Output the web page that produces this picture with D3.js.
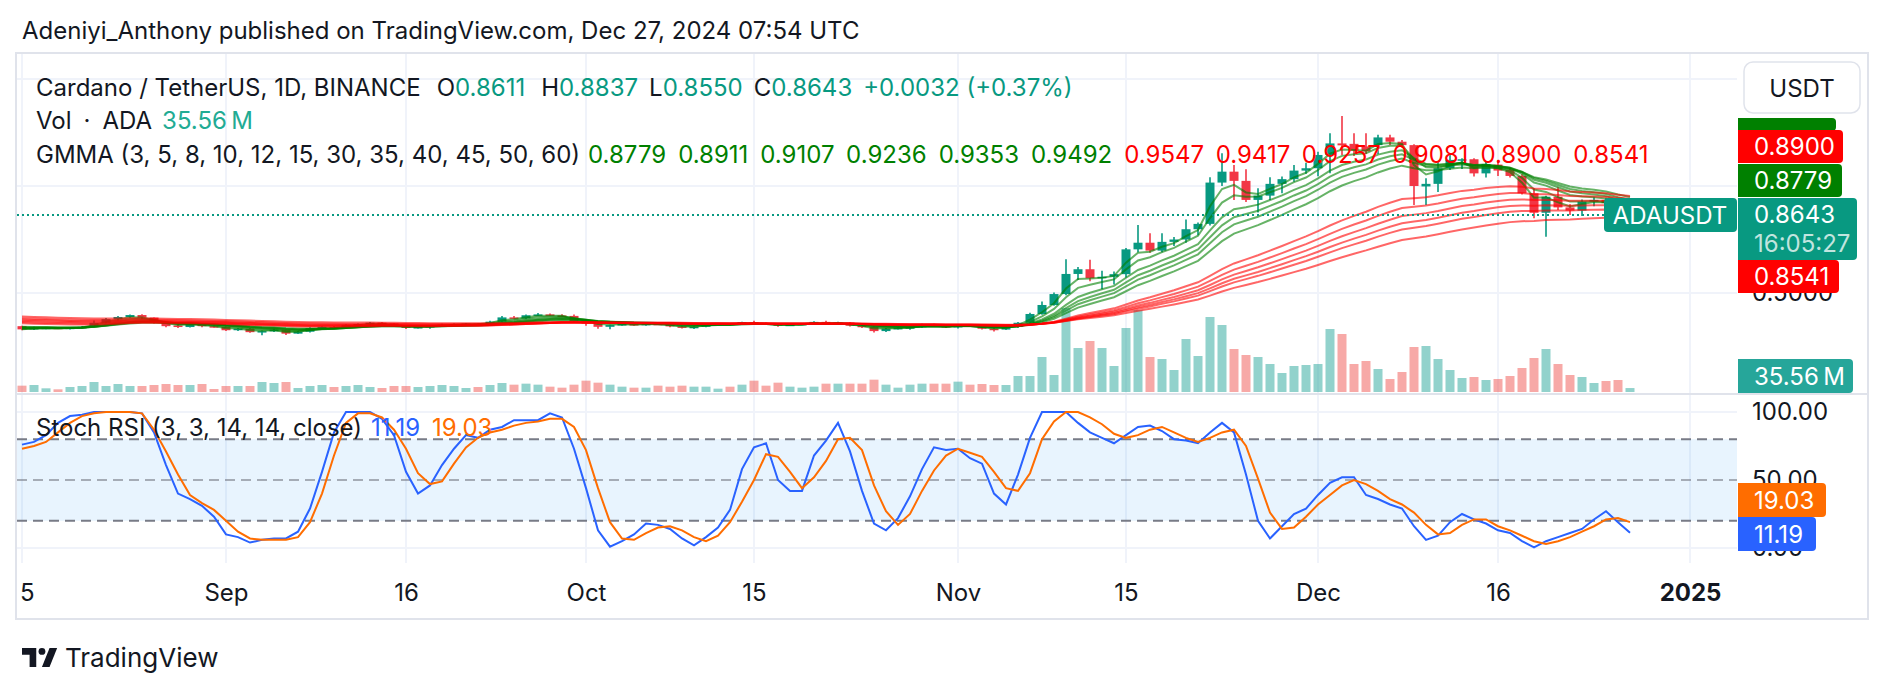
<!DOCTYPE html>
<html>
<head>
<meta charset="utf-8">
<script src="https://cdn.jsdelivr.net/npm/d3@7"></script>
<style>
body { margin: 0; background: #ffffff; }
svg { display: block; font-family: Inter, "Noto Sans", sans-serif; }
</style>
</head>
<body>
<svg id="chart" width="1888" height="690"></svg>
<script>
// ADA/USDT daily, Aug 15 - Dec 27 2024
const dates = d3.utcDay.range(new Date(Date.UTC(2024, 7, 15)), new Date(Date.UTC(2024, 11, 28)));

const opens = [
  0.345,0.331,0.336,0.338,0.334,0.338,0.342,0.361,0.378,0.388,
  0.397,0.385,0.362,0.348,0.341,0.356,0.345,0.342,0.326,0.333,
  0.317,0.322,0.328,0.310,0.319,0.336,0.342,0.339,0.351,0.355,
  0.361,0.358,0.344,0.338,0.341,0.346,0.352,0.355,0.357,0.354,
  0.366,0.386,0.381,0.396,0.400,0.395,0.393,0.367,0.357,0.342,
  0.350,0.355,0.349,0.356,0.354,0.344,0.338,0.342,0.353,0.357,
  0.353,0.364,0.358,0.354,0.348,0.352,0.356,0.365,0.354,0.362,
  0.347,0.341,0.322,0.333,0.337,0.340,0.352,0.349,0.339,0.351,
  0.347,0.333,0.329,0.341,0.361,0.402,0.444,0.495,0.589,0.611,
  0.569,0.576,0.588,0.704,0.735,0.698,0.739,0.750,0.798,0.823,
  1.016,1.067,1.024,0.935,0.955,1.010,1.032,1.072,1.083,1.145,
  1.199,1.197,1.185,1.191,1.227,1.207,1.191,0.998,1.010,1.083,
  1.122,1.125,1.059,1.100,1.075,1.047,0.966,0.875,0.950,0.900,
  0.885,0.927,0.935,0.920,0.8611];
const highs = [
  0.347,0.342,0.340,0.341,0.340,0.346,0.372,0.383,0.392,0.400,
  0.401,0.386,0.367,0.354,0.362,0.360,0.348,0.344,0.336,0.337,
  0.325,0.333,0.330,0.322,0.340,0.345,0.346,0.354,0.358,0.365,
  0.363,0.360,0.346,0.344,0.348,0.356,0.358,0.360,0.359,0.370,
  0.392,0.392,0.399,0.407,0.404,0.401,0.399,0.378,0.360,0.352,
  0.357,0.357,0.358,0.362,0.356,0.347,0.345,0.355,0.359,0.359,
  0.366,0.370,0.362,0.357,0.354,0.358,0.368,0.370,0.366,0.364,
  0.350,0.344,0.337,0.340,0.342,0.356,0.356,0.351,0.354,0.353,
  0.349,0.336,0.344,0.364,0.408,0.460,0.502,0.658,0.622,0.655,
  0.604,0.600,0.710,0.818,0.779,0.779,0.762,0.844,0.830,1.041,
  1.153,1.098,1.078,0.990,1.041,1.044,1.098,1.109,1.160,1.246,
  1.327,1.246,1.246,1.240,1.240,1.215,1.195,1.036,1.114,1.153,
  1.130,1.130,1.114,1.120,1.085,1.055,0.989,0.955,0.994,0.915,
  0.937,0.947,0.945,0.930,0.8837];
const lows = [
  0.326,0.327,0.331,0.333,0.330,0.335,0.340,0.358,0.372,0.384,
  0.378,0.358,0.340,0.336,0.339,0.340,0.338,0.322,0.322,0.314,
  0.303,0.318,0.304,0.308,0.316,0.333,0.336,0.334,0.348,0.352,
  0.355,0.342,0.332,0.334,0.333,0.344,0.349,0.352,0.349,0.352,
  0.362,0.377,0.377,0.392,0.392,0.390,0.364,0.347,0.333,0.331,
  0.347,0.347,0.347,0.352,0.340,0.334,0.332,0.340,0.351,0.349,
  0.351,0.354,0.350,0.342,0.346,0.350,0.354,0.350,0.352,0.344,
  0.337,0.316,0.318,0.330,0.328,0.338,0.346,0.336,0.334,0.344,
  0.330,0.320,0.327,0.338,0.358,0.398,0.440,0.490,0.561,0.555,
  0.518,0.540,0.572,0.690,0.688,0.690,0.720,0.735,0.770,0.815,
  1.000,0.935,0.925,0.876,0.935,0.966,1.020,1.057,1.045,1.060,
  1.145,1.140,1.150,1.150,1.192,1.180,0.911,0.911,0.972,1.075,
  1.080,1.044,1.040,1.047,1.040,0.960,0.849,0.763,0.888,0.864,
  0.860,0.905,0.905,0.855,0.8550];
const closes = [
  0.330,0.337,0.338,0.334,0.338,0.342,0.361,0.378,0.388,0.397,
  0.385,0.362,0.345,0.341,0.356,0.345,0.342,0.326,0.333,0.317,
  0.322,0.328,0.310,0.319,0.336,0.342,0.339,0.351,0.355,0.361,
  0.358,0.344,0.338,0.341,0.346,0.352,0.355,0.357,0.354,0.366,
  0.386,0.381,0.396,0.400,0.395,0.393,0.367,0.357,0.342,0.350,
  0.355,0.349,0.356,0.354,0.344,0.338,0.342,0.353,0.357,0.353,
  0.364,0.358,0.354,0.348,0.352,0.356,0.365,0.354,0.362,0.347,
  0.341,0.322,0.333,0.337,0.340,0.352,0.349,0.339,0.351,0.347,
  0.333,0.329,0.341,0.361,0.402,0.444,0.495,0.589,0.611,0.569,
  0.576,0.588,0.704,0.735,0.698,0.739,0.750,0.798,0.823,1.016,
  1.067,1.024,0.935,0.955,1.010,1.032,1.072,1.083,1.145,1.199,
  1.190,1.165,1.162,1.227,1.207,1.191,1.000,1.010,1.083,1.122,
  1.125,1.059,1.103,1.072,1.047,0.966,0.875,0.950,0.900,0.885,
  0.927,0.935,0.920,0.861,0.8643];
// volume, millions of ADA
const volumes = [
  57,63,33,24,45,54,90,54,72,54,
  54,63,72,63,63,72,27,54,54,54,
  90,81,90,36,54,63,45,54,63,45,
  36,54,54,45,54,63,54,36,45,63,
  81,66,75,66,48,39,66,102,84,66,
  48,39,39,57,48,57,48,48,30,48,
  66,102,57,84,48,39,48,75,75,75,
  75,111,66,39,66,75,75,75,93,66,
  72,63,63,144,144,315,153,756,396,459,
  396,234,576,738,315,297,198,477,324,675,
  603,387,333,315,252,171,234,243,252,567,
  522,252,279,207,117,180,405,414,297,198,
  126,135,108,117,144,216,306,387,252,153,
  135,81,99,108,35.56];

// Stoch RSI (3, 3, 14, 14, close)
const stochK = [
  76,78,83,92,97,98,100,100,100,100,
  99,85,61,40,36,31,23,10,8,4,
  6,7,7,12,29,56,85,100,100,100,
  95,83,56,40,46,61,73,83,81,87,
  89,94,94,94,99,96,73,44,13,1,
  5,10,18,17,14,7,2,8,15,28,
  58,74,77,50,42,42,68,79,92,71,
  42,18,13,22,38,58,74,72,73,66,
  62,40,32,54,81,100,100,100,92,85,
  81,77,83,89,90,86,80,79,77,85,
  92,85,54,20,7,16,25,29,39,48,
  52,52,39,36,32,29,16,6,9,19,
  25,21,18,13,11,5,0.5,5,8,11,
  14,21,27,19,11.19];
const stochD = [
  73,75,78,85,92,97,99,100,100,100,
  99,87,71,54,39,33,28,20,12,7,
  6,6,6,8,19,40,68,92,99,99,
  96,87,73,55,47,49,62,74,81,85,
  87,90,92,93,95,95,89,72,44,19,
  7,6,11,15,16,13,8,5,9,19,
  34,50,69,67,56,44,52,64,80,81,
  72,46,27,17,25,42,57,68,73,70,
  67,56,44,42,55,80,93,100,100,96,
  91,84,81,83,87,89,85,81,78,81,
  85,87,75,51,26,14,15,23,32,39,
  46,50,47,42,36,32,26,17,10,11,
  17,21,21,16,13,9,5,3,5,8,
  12,16,21,22,19.03];

// GMMA periods, EMA levels on the day before the first bar, and legend values
const gmmaPeriods = [3, 5, 8, 10, 12, 15, 30, 35, 40, 45, 50, 60];
const gmmaSeed = [0.332, 0.334, 0.337, 0.339, 0.341, 0.344, 0.360, 0.366, 0.372, 0.378, 0.384, 0.392];
const gmmaLast = ['0.8779', '0.8911', '0.9107', '0.9236', '0.9353', '0.9492', '0.9547', '0.9417', '0.9257', '0.9081', '0.8900', '0.8541'];

const tickDates = [
  Date.UTC(2024, 7, 15), Date.UTC(2024, 8, 1), Date.UTC(2024, 8, 16), Date.UTC(2024, 9, 1), Date.UTC(2024, 9, 15),
  Date.UTC(2024, 10, 1), Date.UTC(2024, 10, 15), Date.UTC(2024, 11, 1), Date.UTC(2024, 11, 16), Date.UTC(2025, 0, 1)
].map(t => new Date(t));
const tickLabels = ['15', 'Sep', '16', 'Oct', '15', 'Nov', '15', 'Dec', '16', '2025'];
const priceTicks = [0.5, 1.0, 1.5];
const stochTicks = [0, 50, 100];

const ohlcLabels = ['O', 'H', 'L', 'C'];
const ohlcValues = ['0.8611', '0.8837', '0.8550', '0.8643'];
const changeText = '+0.0032 (+0.37%)';
const volText = '35.56\u2009M';

const ink = '#131722', up = '#089981', down = '#F23645';
const gridCol = '#f0f3fa', frameCol = '#e0e3eb';
const fs = 24;

const svg = d3.select('#chart');
const plotL = 17, plotR = 1737;

const x = d3.scaleUtc().domain([dates[0], dates[dates.length - 1]]).range([22, 1630]);
const y = d3.scaleLinear().domain([0.5, 1.5]).range([293, 79]);
const yVol = d3.scaleLinear().domain([0, 900]).range([392, 292]);
const yStoch = d3.scaleLinear().domain([0, 100]).range([548, 412]);

const defs = svg.append('defs');
defs.append('clipPath').attr('id', 'clipMain').append('rect')
  .attr('x', plotL).attr('y', 54).attr('width', plotR - plotL).attr('height', 339);
defs.append('clipPath').attr('id', 'clipStoch').append('rect')
  .attr('x', plotL).attr('y', 395).attr('width', plotR - plotL).attr('height', 168);
defs.append('clipPath').attr('id', 'clipTime').append('rect')
  .attr('x', 21).attr('y', 565).attr('width', plotR - 21).attr('height', 52);

// header
svg.append('text').attr('x', 22).attr('y', 30).attr('dominant-baseline', 'central')
  .attr('font-size', fs).attr('fill', ink)
  .text('Adeniyi_Anthony published on TradingView.com, Dec 27, 2024 07:54 UTC');

// frame
svg.append('rect').attr('x', 16).attr('y', 53).attr('width', 1852).attr('height', 566)
  .attr('fill', 'none').attr('stroke', frameCol).attr('stroke-width', 2);
svg.append('line').attr('x1', 16).attr('x2', 1868).attr('y1', 394).attr('y2', 394)
  .attr('stroke', frameCol).attr('stroke-width', 2);

// grids
svg.append('g').selectAll('line').data(tickDates).join('line')
  .attr('x1', d => x(d)).attr('x2', d => x(d)).attr('y1', 54).attr('y2', 563)
  .attr('stroke', gridCol).attr('stroke-width', 2).attr('clip-path', 'url(#clipMain)');
svg.append('g').selectAll('line').data(tickDates).join('line')
  .attr('x1', d => x(d)).attr('x2', d => x(d)).attr('y1', 395).attr('y2', 563)
  .attr('stroke', gridCol).attr('stroke-width', 2).attr('clip-path', 'url(#clipStoch)');
svg.append('g').selectAll('line').data(priceTicks).join('line')
  .attr('x1', plotL).attr('x2', plotR).attr('y1', d => y(d)).attr('y2', d => y(d))
  .attr('stroke', gridCol).attr('stroke-width', 2);
svg.append('g').selectAll('line').data([0, 100]).join('line')
  .attr('x1', plotL).attr('x2', plotR).attr('y1', d => yStoch(d)).attr('y2', d => yStoch(d))
  .attr('stroke', gridCol).attr('stroke-width', 2);

// main pane
const main = svg.append('g').attr('clip-path', 'url(#clipMain)');
const bars = dates.map((d, i) => ({ d, o: opens[i], h: highs[i], l: lows[i], c: closes[i], v: volumes[i] }));

main.append('g').selectAll('rect').data(bars).join('rect')
  .attr('x', d => x(d.d) - 4.5).attr('width', 9)
  .attr('y', d => yVol(d.v)).attr('height', d => yVol(0) - yVol(d.v))
  .attr('fill', d => d.c >= d.o ? 'rgba(38,166,154,0.5)' : 'rgba(239,83,80,0.5)');

main.append('g').selectAll('line').data(bars).join('line')
  .attr('x1', d => x(d.d)).attr('x2', d => x(d.d))
  .attr('y1', d => y(d.h)).attr('y2', d => y(d.l))
  .attr('stroke', d => d.c >= d.o ? up : down).attr('stroke-width', 1.6);
main.append('g').selectAll('rect').data(bars).join('rect')
  .attr('x', d => x(d.d) - 4.5).attr('width', 9)
  .attr('y', d => y(Math.max(d.o, d.c)))
  .attr('height', d => Math.max(1.5, Math.abs(y(d.o) - y(d.c))))
  .attr('fill', d => d.c >= d.o ? up : down);

// GMMA: EMAs of close
const ema = (src, n, seed) => {
  const a = 2 / (n + 1);
  let e = seed;
  return src.map(v => (e = a * v + (1 - a) * e));
};
const gmma = gmmaPeriods.map((p, k) => ema(closes, p, gmmaSeed[k]));
const line = d3.line().x((d, i) => x(dates[i])).y(d => y(d));
main.append('g').selectAll('path').data(gmma).join('path')
  .attr('d', line).attr('fill', 'none').attr('stroke-width', 2)
  .attr('stroke', (d, k) => k < 6 ? 'rgba(0,128,0,0.6)' : 'rgba(255,0,0,0.6)');

// last price line
svg.append('line').attr('x1', plotL).attr('x2', 1604)
  .attr('y1', y(closes[closes.length - 1])).attr('y2', y(closes[closes.length - 1]))
  .attr('stroke', up).attr('stroke-width', 2).attr('stroke-dasharray', '2,3');

// stoch pane
const st = svg.append('g').attr('clip-path', 'url(#clipStoch)');
st.append('rect').attr('x', plotL).attr('width', plotR - plotL)
  .attr('y', yStoch(80)).attr('height', yStoch(20) - yStoch(80))
  .attr('fill', 'rgba(33,150,243,0.1)');
st.selectAll('line.band').data([80, 50, 20]).join('line')
  .attr('x1', plotL).attr('x2', plotR).attr('y1', d => yStoch(d)).attr('y2', d => yStoch(d))
  .attr('stroke', d => d === 50 ? 'rgba(120,123,134,0.6)' : '#787B86')
  .attr('stroke-width', 2).attr('stroke-dasharray', '10,6');
const sLine = d3.line().x((d, i) => x(dates[i])).y(d => yStoch(d));
st.append('path').datum(stochK).attr('d', sLine).attr('fill', 'none').attr('stroke', '#2962FF').attr('stroke-width', 2);
st.append('path').datum(stochD).attr('d', sLine).attr('fill', 'none').attr('stroke', '#FF6D00').attr('stroke-width', 2);

// legends
const legend = (yc, parts) => {
  const t = svg.append('text').attr('x', 36).attr('y', yc).attr('dominant-baseline', 'central').attr('font-size', fs);
  parts.forEach(p => t.append('tspan').attr('dx', p.dx || 0).attr('fill', p.c).text(p.t));
};
const ohlcGaps = [16, 16, 11, 11];
const l1 = [{ t: 'Cardano / TetherUS, 1D, BINANCE', c: ink }];
ohlcLabels.forEach((lb, i) => { l1.push({ t: lb, c: ink, dx: ohlcGaps[i] }); l1.push({ t: ohlcValues[i], c: up }); });
l1.push({ t: changeText, c: up, dx: 11 });
legend(87, l1);
legend(120, [{ t: 'Vol\u2002·\u2002ADA', c: ink }, { t: volText, c: '#22AB94', dx: 10 }]);
const l3 = [{ t: 'GMMA (' + gmmaPeriods.join(', ') + ')', c: ink }];
gmmaLast.forEach((v, k) => l3.push({ t: v, c: k < 6 ? '#008000' : '#FF0000', dx: k ? 12 : 8 }));
legend(154, l3);
legend(427, [{ t: 'Stoch RSI (3, 3, 14, 14, close)', c: ink },
  { t: stochK[stochK.length - 1].toFixed(2), c: '#2962FF', dx: 9 },
  { t: stochD[stochD.length - 1].toFixed(2), c: '#FF6D00', dx: 12 }]);

// time axis
const gx = svg.append('g').attr('clip-path', 'url(#clipTime)')
  .append('g').attr('transform', 'translate(0,593)')
  .call(d3.axisBottom(x).tickValues(tickDates).tickFormat((d, i) => tickLabels[i]).tickSize(0).tickPadding(0));
gx.select('.domain').remove();
gx.selectAll('text').attr('y', 0).attr('dy', '0.35em').attr('font-size', fs)
  .attr('font-family', 'Inter, "Noto Sans", sans-serif').attr('fill', ink)
  .attr('font-weight', (d, i) => tickLabels[i] === '2025' ? 700 : 400);

// price axes
const axisText = g => {
  g.select('.domain').remove();
  g.selectAll('text').attr('x', 0).attr('font-size', fs).attr('text-anchor', 'start')
    .attr('font-family', 'Inter, "Noto Sans", sans-serif').attr('fill', ink);
};
svg.append('g').attr('transform', 'translate(1752,0)')
  .call(d3.axisRight(y).tickValues(priceTicks).tickFormat(d3.format('.4f')).tickSize(0).tickPadding(0)).call(axisText);
svg.append('g').attr('transform', 'translate(1752,0)')
  .call(d3.axisRight(yStoch).tickValues(stochTicks).tickFormat(d3.format('.2f')).tickSize(0).tickPadding(0)).call(axisText);

// USDT button
svg.append('rect').attr('x', 1744).attr('y', 62).attr('width', 116).attr('height', 51).attr('rx', 9)
  .attr('fill', '#fff').attr('stroke', frameCol).attr('stroke-width', 1.5);
svg.append('text').attr('x', 1802).attr('y', 88).attr('text-anchor', 'middle').attr('dominant-baseline', 'central')
  .attr('font-size', fs).attr('fill', ink).text('USDT');

// value tags on the right scale
const tag = (y0, h, w, fill, label) => {
  svg.append('rect').attr('x', 1738).attr('y', y0).attr('width', w).attr('height', h).attr('rx', 4).attr('fill', fill);
  svg.append('rect').attr('x', 1738).attr('y', y0).attr('width', 6).attr('height', h).attr('fill', fill);
  if (label) svg.append('text').attr('x', 1754).attr('y', y0 + h / 2).attr('dominant-baseline', 'central')
    .attr('font-size', fs).attr('fill', '#fff').text(label);
};
tag(118, 13, 98, '#008000', null);
tag(130, 33, 105, '#FF0000', gmmaLast[10]);
tag(164, 33, 104, '#008000', gmmaLast[0]);
tag(198, 62, 119, up, null);
svg.append('text').attr('x', 1754).attr('y', 214).attr('dominant-baseline', 'central').attr('font-size', fs)
  .attr('fill', '#fff').text(closes[closes.length - 1].toFixed(4));
svg.append('text').attr('x', 1754).attr('y', 243).attr('dominant-baseline', 'central').attr('font-size', fs)
  .attr('fill', 'rgba(255,255,255,0.75)').text('16:05:27');
tag(260, 33, 101, '#FF0000', gmmaLast[11]);
tag(359, 34, 115, '#26A69A', volText);
tag(483, 34, 88, '#FF6D00', stochD[stochD.length - 1].toFixed(2));
tag(517, 34, 78, '#2962FF', stochK[stochK.length - 1].toFixed(2));

// symbol tag
svg.append('rect').attr('x', 1604).attr('y', 198).attr('width', 133).attr('height', 34).attr('rx', 4).attr('fill', up);
svg.append('text').attr('x', 1670).attr('y', 215).attr('text-anchor', 'middle').attr('dominant-baseline', 'central')
  .attr('font-size', fs).attr('fill', '#fff').text('ADAUSDT');

// TradingView logo
const logo = svg.append('g').attr('transform', 'translate(22,648) scale(0.95)').attr('fill', ink);
logo.append('path').attr('d', 'M0,0H15V20H8V7H0Z');
logo.append('circle').attr('cx', 21).attr('cy', 3.6).attr('r', 3.6);
logo.append('path').attr('d', 'M29,0H37L29,20H21Z');
svg.append('text').attr('x', 65).attr('y', 657).attr('dominant-baseline', 'central')
  .attr('font-size', 26).attr('fill', ink).text('TradingView');
</script>
</body>
</html>
